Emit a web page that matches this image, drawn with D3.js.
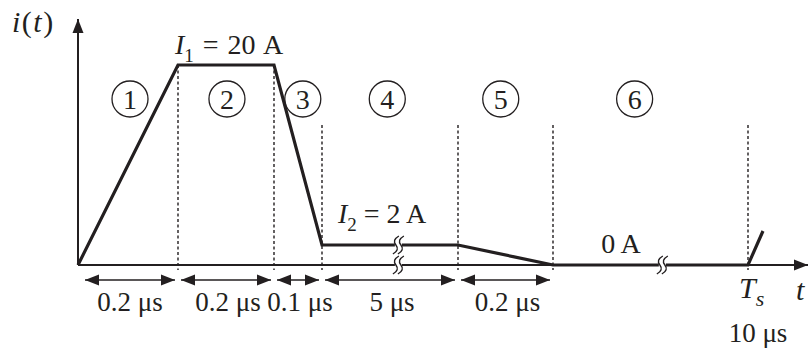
<!DOCTYPE html>
<html>
<head>
<meta charset="utf-8">
<script src="https://cdn.jsdelivr.net/npm/d3@7"></script>
<style>
	body { margin: 0; background: #fff; }
	text { font-family: "Liberation Serif", "Times New Roman", serif; fill: #231f20; }
</style>
</head>
<body>
<svg class="chart"></svg>
<script>
// corners of the current waveform (time in us, current in A)
var times = [0, 0.2, 0.4, 0.5, 5.5, 5.7, 10, 10.034];
var currents = [0, 20, 20, 2, 2, 0, 0, 3.4];

// interval boundaries along the time axis and the duration written under each
var bounds = [0, 0.2, 0.4, 0.5, 5.5, 5.7];
var durationLabels = ["0.2 μs", "0.2 μs", "0.1 μs", "5 μs", "0.2 μs"];

// numbered regions
var regionNums = ["1", "2", "3", "4", "5", "6"];
var regionTimes = [0.104, 0.302, 0.46, 2.9, 5.59, 7.5];

// axis breaks
var lineBreak = { t: 3.29, i: 2 };
var axisBreaks = [3.29, 8.1];

var Ts = 10;
var TsLabel = "10 μs";
var dottedTimes = [0.2, 0.4, 0.5, 5.5, 5.7, 10];

var ink = "#231f20";
var width = 810,
	height = 350;

var svg = d3.select(".chart").attr("width", width).attr("height", height);

// broken (schematic) time axis: each interval gets its own stretch
var x = d3
	.scaleLinear()
	.domain(times)
	.range([78, 178, 274, 322, 458, 553, 748, 763]);

var y = d3.scaleLinear().domain([0, 20]).range([265, 65]);

var defs = svg.append("defs");
defs
	.append("marker")
	.attr("id", "head")
	.attr("viewBox", "0 -6 14 12")
	.attr("refX", 14)
	.attr("refY", 0)
	.attr("markerUnits", "userSpaceOnUse")
	.attr("markerWidth", 14)
	.attr("markerHeight", 12)
	.attr("orient", "auto-start-reverse")
	.append("path")
	.attr("d", "M0,-5.5L14,0L0,5.5Z")
	.attr("fill", ink);

// dotted guides
svg
	.selectAll(".guide")
	.data(dottedTimes)
	.join("line")
	.attr("class", "guide")
	.attr("x1", (d) => x(d))
	.attr("x2", (d) => x(d))
	.attr("y1", (d) => (d <= 0.4 ? y(20) : 125))
	.attr("y2", y(0) + 5)
	.attr("stroke", ink)
	.attr("stroke-width", 1.4)
	.attr("stroke-dasharray", "3,2.5");

// axes
svg
	.append("line")
	.attr("x1", x(0))
	.attr("x2", x(0))
	.attr("y1", y(0))
	.attr("y2", 19)
	.attr("stroke", ink)
	.attr("stroke-width", 2)
	.attr("marker-end", "url(#head)");

svg
	.append("line")
	.attr("x1", x(0))
	.attr("x2", 808)
	.attr("y1", y(0))
	.attr("y2", y(0))
	.attr("stroke", ink)
	.attr("stroke-width", 2)
	.attr("marker-end", "url(#head)");

// waveform
var line = d3
	.line()
	.x((d, i) => x(times[i]))
	.y((d) => y(d));

svg
	.append("path")
	.attr("d", line(currents))
	.attr("fill", "none")
	.attr("stroke", ink)
	.attr("stroke-width", 3.2)
	.attr("stroke-linejoin", "miter");

// break symbols
var sCurve = (cx, cy) =>
	`M${cx + 3},${cy - 9} Q${cx - 4},${cy - 5} ${cx},${cy} Q${cx + 4},${cy + 5} ${cx - 3},${cy + 9}`;

var drawBreak = (cx, cy) => {
	var g = svg.append("g");
	g.append("rect")
		.attr("x", cx - 1)
		.attr("y", cy - 3)
		.attr("width", 7)
		.attr("height", 6)
		.attr("fill", "#fff");
	[0, 5].forEach((off) =>
		g.append("path")
			.attr("d", sCurve(cx + off, cy))
			.attr("fill", "none")
			.attr("stroke", ink)
			.attr("stroke-width", 1.4)
	);
};
drawBreak(x(lineBreak.t) - 2, y(lineBreak.i));
axisBreaks.forEach((t) => drawBreak(x(t) - 2, y(0)));

// duration arrows
var gap = 3;
svg
	.selectAll(".dim")
	.data(durationLabels)
	.join("line")
	.attr("class", "dim")
	.attr("x1", (d, i) => x(bounds[i]) + gap + (i === 0 ? 4 : 0))
	.attr("x2", (d, i) => x(bounds[i + 1]) - gap)
	.attr("y1", 280)
	.attr("y2", 280)
	.attr("stroke", ink)
	.attr("stroke-width", 1.6)
	.attr("marker-start", "url(#head)")
	.attr("marker-end", "url(#head)");

svg
	.selectAll(".dimlabel")
	.data(durationLabels)
	.join("text")
	.attr("class", "dimlabel")
	.attr("x", (d, i) => (x(bounds[i]) + x(bounds[i + 1])) / 2 + 2)
	.attr("y", 311)
	.attr("text-anchor", "middle")
	.attr("font-size", 27)
	.text((d) => d);

// region numbers in circles
var regions = svg
	.selectAll(".region")
	.data(regionNums)
	.join("g")
	.attr("class", "region")
	.attr("transform", (d, i) => `translate(${x(regionTimes[i])},99)`);
regions
	.append("circle")
	.attr("r", 18)
	.attr("fill", "none")
	.attr("stroke", ink)
	.attr("stroke-width", 1.3);
regions
	.append("text")
	.attr("text-anchor", "middle")
	.attr("y", 9.5)
	.attr("font-size", 28)
	.text((d) => d);

// labels
var yLab = svg
	.append("text")
	.attr("x", 12)
	.attr("y", 32)
	.attr("font-size", 30)
	.attr("letter-spacing", 1.5);
yLab.append("tspan").attr("font-style", "italic").text("i");
yLab.append("tspan").text("(");
yLab.append("tspan").attr("font-style", "italic").text("t");
yLab.append("tspan").text(")");

var subLabel = (px, py, name, sub, rest) => {
	var t = svg.append("text").attr("x", px).attr("y", py).attr("font-size", 28);
	t.append("tspan").attr("font-style", "italic").text(name);
	t.append("tspan").attr("font-size", 19).attr("dy", 8).text(sub);
	if (rest) t.append("tspan").attr("dy", -8).text(rest);
	return t;
};

subLabel(x(0.2) - 3, 54, "I", "1", " = " + currents[1] + " A").attr("word-spacing", 2);
subLabel(x(0.5) + 16, 223, "I", "2", " = " + currents[3] + " A");

svg
	.append("text")
	.attr("x", 621)
	.attr("y", 253)
	.attr("text-anchor", "middle")
	.attr("font-size", 28)
	.text(currents[5] + " A");

subLabel(x(Ts) - 9, 298, "T", "s", null)
	.attr("font-size", 30)
	.select("tspan:last-child")
	.attr("font-style", "italic")
	.attr("font-size", 22);

svg
	.append("text")
	.attr("x", 796)
	.attr("y", 300)
	.attr("font-size", 30)
	.attr("font-style", "italic")
	.text("t");

svg
	.append("text")
	.attr("x", x(Ts) + 10)
	.attr("y", 342)
	.attr("text-anchor", "middle")
	.attr("font-size", 27)
	.text(TsLabel);
</script>
</body>
</html>
